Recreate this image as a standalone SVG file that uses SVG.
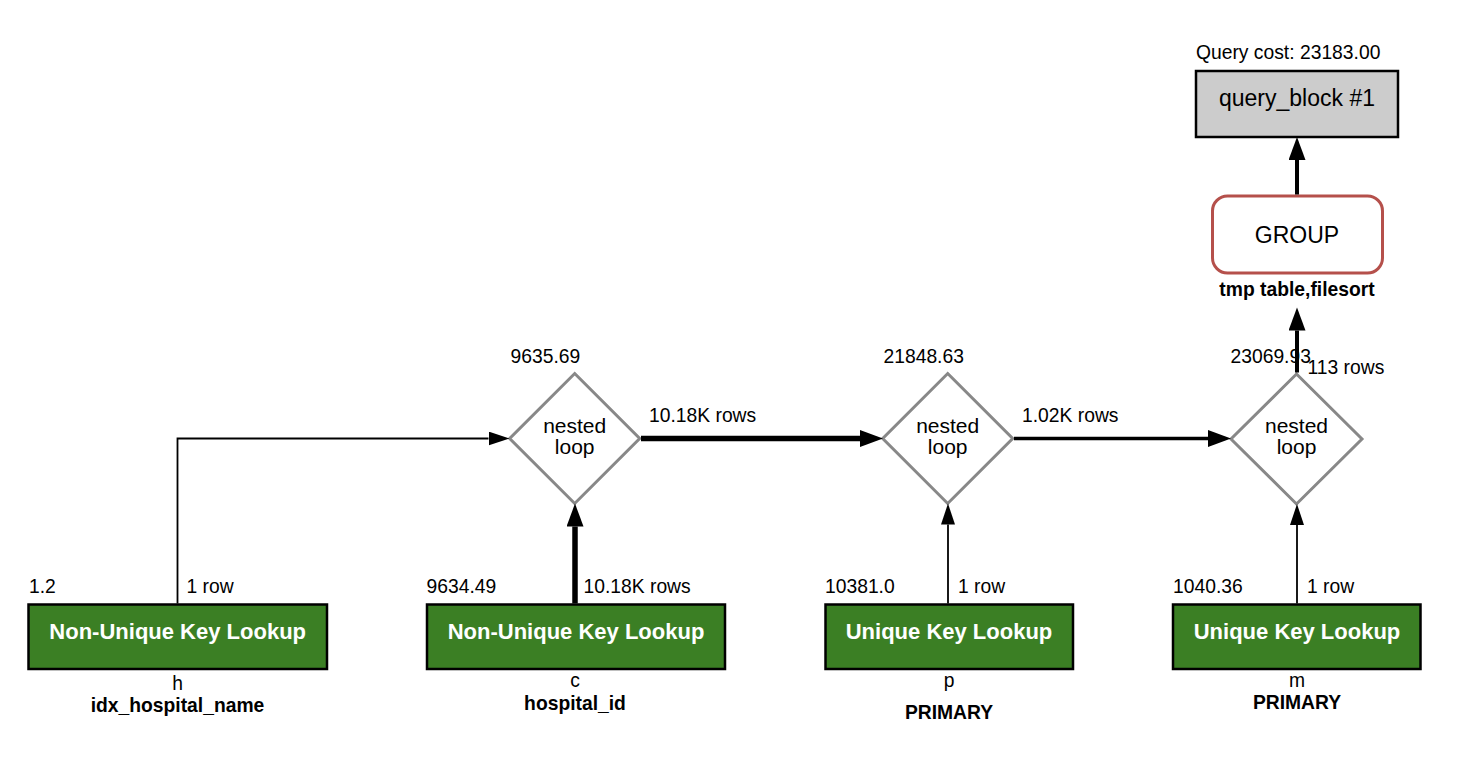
<svg xmlns="http://www.w3.org/2000/svg" width="1480" height="766" viewBox="0 0 1480 766">
<defs>
<style>
text{font-family:"Liberation Sans",Arial,Helvetica,sans-serif;fill:#000}
.lbl{font-size:19.3px}
.bl{font-size:19.3px;font-weight:bold}
.mid{text-anchor:middle}
.tbl rect{fill:#3b7f24;stroke:#000;stroke-width:2.5}
.tbl .tt{font-size:22px;font-weight:bold;fill:#fff;text-anchor:middle}
.nl polygon{fill:#fff;stroke:#888;stroke-width:3}
.nl .nt{font-size:21px;text-anchor:middle}
.e{fill:none;stroke:#000}
</style>
<marker id="ah" markerUnits="userSpaceOnUse" markerWidth="24" markerHeight="18" refX="0" refY="7" orient="auto">
<path d="M0,0 L21,7 L0,14 z" fill="#000"/>
</marker>
<marker id="ahB" markerUnits="userSpaceOnUse" markerWidth="26" markerHeight="20" refX="0" refY="8.5" orient="auto">
<path d="M0,0 L23,8.5 L0,17 z" fill="#000"/>
</marker>
</defs>
<rect width="1480" height="766" fill="#fff"/>

<g id="query_block">
<text class="lbl" x="1196" y="59">Query cost: 23183.00</text>
<rect x="1196" y="71" width="202" height="66" fill="#cccccc" stroke="#000" stroke-width="2.5"/>
<text x="1297" y="106" class="mid" style="font-size:23px">query_block #1</text>
</g>

<g id="group">
<rect x="1212.5" y="196" width="170" height="77" rx="15" ry="15" fill="#fff" stroke="#b5504b" stroke-width="3"/>
<text x="1297" y="243" class="mid" style="font-size:23px">GROUP</text>
<text x="1297" y="296" class="bl mid">tmp table,filesort</text>
</g>

<g id="nl1" class="nl">
<polygon points="574.7,373.5 639.7,438.5 574.7,503.5 509.7,438.5"/>
<text class="nt" x="574.7" y="432.5">nested</text>
<text class="nt" x="574.7" y="453.5">loop</text>
<text class="lbl" x="510.5" y="363">9635.69</text>
</g>

<g id="nl2" class="nl">
<polygon points="947.7,373.5 1012.7,438.5 947.7,503.5 882.7,438.5"/>
<text class="nt" x="947.7" y="432.5">nested</text>
<text class="nt" x="947.7" y="453.5">loop</text>
<text class="lbl" x="883.5" y="363">21848.63</text>
</g>

<g id="nl3" class="nl">
<polygon points="1296.5,374 1362,439 1296.5,504 1231,439"/>
<text class="nt" x="1296.5" y="433">nested</text>
<text class="nt" x="1296.5" y="454">loop</text>
<text class="lbl" x="1230.5" y="363">23069.93</text>
</g>

<g id="tbl_h" class="tbl">
<rect x="28.5" y="604.5" width="298.5" height="64.5"/>
<text class="tt" x="177.7" y="639">Non-Unique Key Lookup</text>
<text class="lbl" x="29" y="593">1.2</text>
<text class="lbl mid" x="177.5" y="690">h</text>
<text class="bl mid" x="177.5" y="712">idx_hospital_name</text>
</g>

<g id="tbl_c" class="tbl">
<rect x="427" y="604.5" width="298" height="64.5"/>
<text class="tt" x="576" y="639">Non-Unique Key Lookup</text>
<text class="lbl" x="426.5" y="593">9634.49</text>
<text class="lbl mid" x="575" y="687">c</text>
<text class="bl mid" x="575" y="709.5">hospital_id</text>
</g>

<g id="tbl_p" class="tbl">
<rect x="825.5" y="604.5" width="247.5" height="64.5"/>
<text class="tt" x="949" y="639">Unique Key Lookup</text>
<text class="lbl" x="825" y="593">10381.0</text>
<text class="lbl mid" x="949" y="687">p</text>
<text class="bl mid" x="949" y="719">PRIMARY</text>
</g>

<g id="tbl_m" class="tbl">
<rect x="1173" y="604.5" width="247.5" height="64.5"/>
<text class="tt" x="1297" y="639">Unique Key Lookup</text>
<text class="lbl" x="1173" y="593">1040.36</text>
<text class="lbl mid" x="1297" y="687">m</text>
<text class="bl mid" x="1297" y="708.5">PRIMARY</text>
</g>

<g id="connectors">
<path class="e" d="M177.5,603.5 V438.5 H488.5" stroke-width="1.8" marker-end="url(#ah)"/>
<path class="e" d="M575,603.5 V526.5" stroke-width="5.5" marker-end="url(#ahB)"/>
<path class="e" d="M641,438.5 H860" stroke-width="5.5" marker-end="url(#ahB)"/>
<path class="e" d="M1014,438.5 H1208" stroke-width="3.5" marker-end="url(#ahB)"/>
<path class="e" d="M948,603.5 V524.5" stroke-width="1.8" marker-end="url(#ah)"/>
<path class="e" d="M1297,603.5 V525" stroke-width="1.8" marker-end="url(#ah)"/>
<path class="e" d="M1297,372.5 V330.5" stroke-width="4" marker-end="url(#ahB)"/>
<path class="e" d="M1297,194.5 V160" stroke-width="4" marker-end="url(#ahB)"/>
<text class="lbl" x="186.5" y="593">1 row</text>
<text class="lbl" x="583.5" y="593">10.18K rows</text>
<text class="lbl" x="649" y="422">10.18K rows</text>
<text class="lbl" x="1022" y="422">1.02K rows</text>
<text class="lbl" x="958" y="593">1 row</text>
<text class="lbl" x="1307" y="593">1 row</text>
<text class="lbl" x="1307.5" y="373.5">113 rows</text>
</g>
</svg>
